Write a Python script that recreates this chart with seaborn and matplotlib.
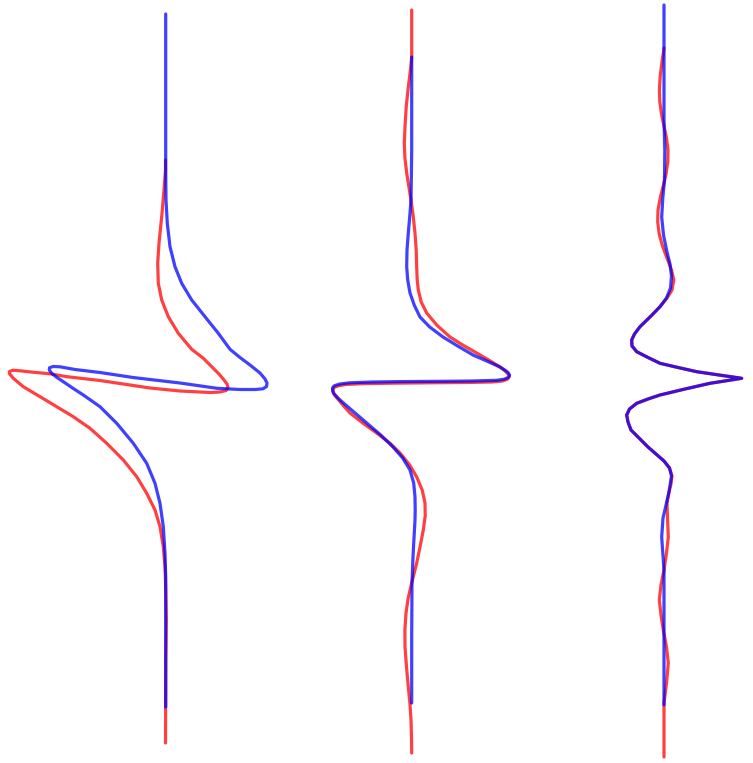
import matplotlib
matplotlib.use("Agg")
import matplotlib.pyplot as plt
import seaborn as sns
import pandas as pd

sns.set_theme(style="white")

# ---- data: vertical position (t) and horizontal amplitude (a) ----
# Panel 1
p1_red_t = [160,170,190,216.7,243.3,263.3,283.3,300,316.7,333.3,
            349.3,358,368,374,380,384,387.5,390.5,392,392.5,
            392,391,388,380.5,376.7,373.8,372.2,370.8,370.2,371.5,
            373.5,378.3,386.7,396.7,406.7,416.7,428.3,443.3,460,476.7,
            493.3,510,526.7,546.7,566.7,586.7,620,660,743]
p1_red_a = [0,0,-1.5,-3.8,-6.5,-7.8,-7.2,-3.8,2.8,12.8,
            26.2,37.5,47.5,53.5,58.5,61.5,62.5,60.5,54.5,44.5,
            34.5,14.5,-15.5,-65.5,-98.5,-115.5,-132.5,-145.5,-152.5,-156,
            -156.2,-152.2,-142.2,-125.5,-108.8,-92.2,-75.5,-58.8,-42.2,-28.8,
            -18.8,-10.5,-5.5,-2.2,-0.5,0.2,0.8,0.3,0]
p1_blue_t = [14,170,200,223.3,246.7,266.7,283.3,300,316.7,333.3,
             349.3,357.5,365,373,379,383,386.5,388.8,389.5,389.5,
             388.3,383,377.5,372.5,369.5,366.8,366.5,367.8,370,373.3,
             377.5,381.7,388.3,395,406.7,423.3,443.3,463.3,483.3,503.3,
             526.7,553.3,576.7,707]
p1_blue_a = [0.2,0.2,0.5,1.8,4.5,9.5,16.2,26.2,39.5,52.8,
             64.5,74.5,84.5,94.5,99.5,101.5,101,97.5,89.5,74.5,
             51.5,14.5,-32.5,-65.5,-90.5,-105.5,-112.5,-116,-116.2,-113.8,
             -108.5,-102.2,-92.5,-82.2,-65.5,-48.8,-32.2,-18.8,-10.5,-5.5,
             -2.2,-0.5,0.2,0.2]

# Panel 2
p2_red_t = [10,57,72,87,107,127,143,158,173,187,200,216,233,250,267,280,290,302,313,325,
            337,345,353,360,367,371,374,376.5,379,381,382,382.5,382.8,383.2,383.7,384.5,385.8,387.5,390,393,
            396,400,406,413,423,433,443,453,465,477,490,503,516,530,546,563,573,583,598,613,
            630,647,667,687,703,720,737,753]
p2_red_a = [0,0,-1.5,-3.4,-5.5,-6.7,-7.4,-6.8,-5,-2.8,-0.7,1.5,3.3,4.5,5,5.5,6.6,9.5,15,25,
            38.3,51,65,77,88.3,93.5,96.5,97.6,96,91,80,55,20,-20,-50,-66,-73.5,-77.5,-78.9,-78.3,
            -76.5,-73,-68,-61.7,-49,-35,-22,-11.7,-2,5,10.5,13.3,13.5,11.6,8.5,5,2.5,0,-3.5,-5.7,
            -6.8,-6.7,-5.2,-3.4,-1.8,-0.7,-0.2,0]
p2_blue_t = [57,100,150,175,200,217,233,250,267,280,293,305,317,327,337,346,355,361,367,370,
             372.5,375,377.3,379.2,380.3,381,381.3,381.6,382,382.8,384,385.8,388,391,394,400,411,423,435,447,
             458,470,483,497,510,520,540,557,583,637,703]
p2_blue_a = [0,0,0,-0.3,-0.7,-2,-3.4,-4.7,-5,-4,-1.7,2.5,8.3,18,31.3,46,61.3,75,88.3,93,
             96.3,97.8,96.8,92.5,85,60,30,-10,-40,-62,-72,-77.5,-79.2,-79,-77.5,-71.7,-59,-45,-31,-18.7,
             -9,-1.7,2,3.3,3.5,3.3,2.2,1.3,0.3,0,0]

# Panel 3
p3_red_t = [48,62,76,90,102,114,126,138,150,162,174,186,198,210,222,234,246,258,270,280,
            290,298,306.7,316,326.7,334,340,346,351.7,357,363.3,367.5,371.7,375,378.3,380.8,383.3,389,395,399,
            403.3,409,415,422,430,438,447,454,461,468,476,484,492,503,518,537,553,570,585,600,
            615,630,647,663,683,703,757]
p3_red_a = [0,-2,-3.8,-4.6,-4.2,-2.5,0,2.5,4,3.8,2,-0.8,-3.8,-6,-6.3,-4.8,-1.5,3,7.5,9.8,
            8,3,-4,-13,-24,-29.5,-32.3,-32,-27.3,-17,-4,14,32.7,55,77.7,62,46,21,-4,-16,
            -27.3,-34.5,-37.3,-36,-33,-25,-16,-8,0,5.5,8,7,5,3,3.5,4.3,2.5,0,-3,-4.7,
            -3,-0.7,2.5,4.3,2.5,0,0]
p3_blue_t = [5,120,150,180,198,217,235,252,264,276,288,298,306.7,316,326.7,334,340,346,351.7,357,
             363.3,367.5,371.7,375,378.3,380.8,383.3,389,395,399,403.3,409,415,422,430,438,447,454,461,468,
             476,492,503,518,537,553,570,705]
p3_blue_a = [0,0,0.8,0.5,-1.2,-2.3,-0.5,3,6,7.5,6.5,2.5,-4,-13,-24,-29.5,-32.3,-32,-27.3,-17,
             -4,14,32.7,55,77.7,62,46,21,-4,-16,-27.3,-34.5,-37.3,-36,-33,-25,-16,-8,0,5.5,
             7.5,5,2.5,-1,-2.3,-1.2,0,0]

# ---- layout ----
baselines = [165.5, 411.7, 664.0]
panels = [
    ((p1_red_t, p1_red_a), (p1_blue_t, p1_blue_a)),
    ((p2_red_t, p2_red_a), (p2_blue_t, p2_blue_a)),
    ((p3_red_t, p3_red_a), (p3_blue_t, p3_blue_a)),
]

fig = plt.figure(figsize=(7.53, 7.63), dpi=100)
ax = fig.add_axes([0, 0, 1, 1])

for base, (red, blue) in zip(baselines, panels):
    for (t, a), col in ((red, (1.0, 0.0, 0.0)), (blue, (0.0, 0.0, 1.0))):
        df = pd.DataFrame({"x": [base + v for v in a], "t": t})
        sns.lineplot(data=df, x="x", y="t", sort=False, estimator=None,
                     color=col, lw=2.3, alpha=0.75, ax=ax)

ax.set_xlim(0, 753)
ax.set_ylim(763, 0)
ax.axis("off")
fig.savefig("out.png", dpi=100, facecolor="white")
